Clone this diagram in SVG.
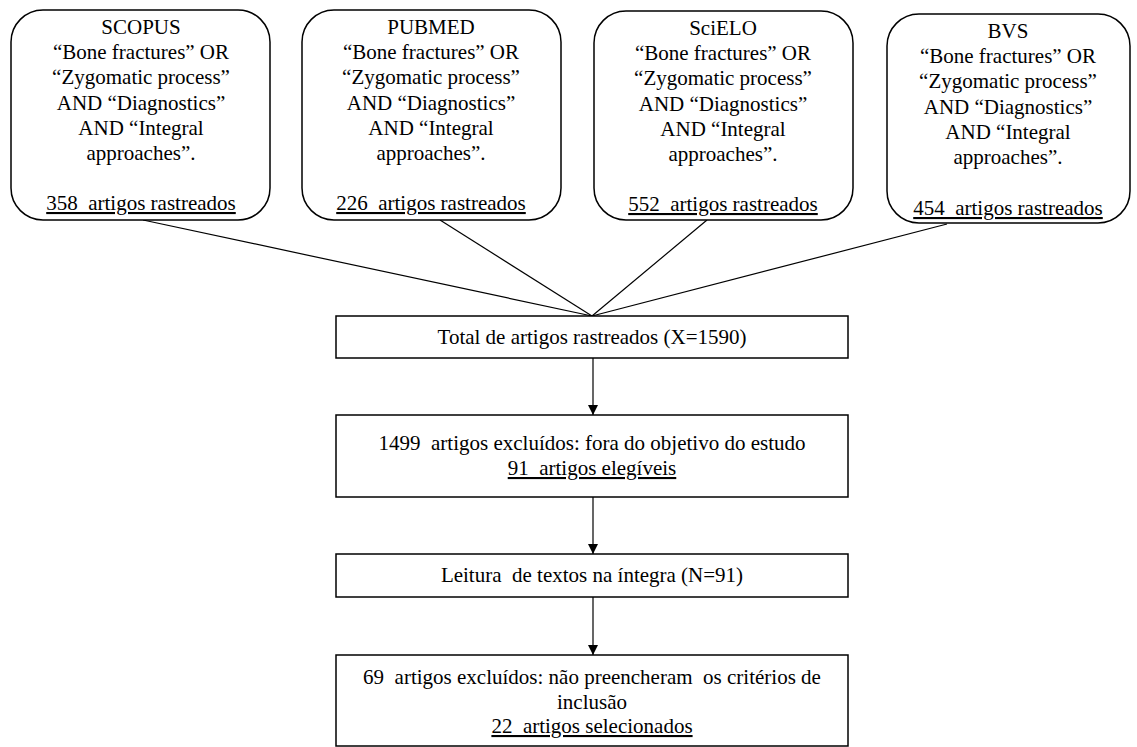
<svg xmlns="http://www.w3.org/2000/svg" width="1137" height="747" viewBox="0 0 1137 747">
  <style>
    .box { fill: #ffffff; stroke: #000000; stroke-width: 1.5; }
    .t { font-family: 'Liberation Serif', 'Times New Roman', 'DejaVu Serif', serif; font-size: 21px; fill: #000000; text-anchor: middle; white-space: pre; }
    .u { text-decoration: underline; }
    .con { stroke: #000000; stroke-width: 1.2; fill: none; }
  </style>
  <defs>
    <marker id="arrow" viewBox="0 0 10 10" refX="10" refY="5" markerWidth="10" markerHeight="10" markerUnits="userSpaceOnUse" orient="auto">
      <path d="M0,0 L10,5 L0,10 Z" fill="#000000"/>
    </marker>
  </defs>
  <rect width="1137" height="747" fill="#ffffff"/>

  <g id="connectors">
    <line class="con" x1="143" y1="220" x2="592" y2="316"/>
    <line class="con" x1="440" y1="220" x2="592" y2="316"/>
    <line class="con" x1="707" y1="220" x2="592" y2="316"/>
    <line class="con" x1="947" y1="224" x2="592" y2="316"/>
    <line class="con" x1="593" y1="358" x2="593" y2="415" marker-end="url(#arrow)"/>
    <line class="con" x1="593" y1="497" x2="593" y2="554" marker-end="url(#arrow)"/>
    <line class="con" x1="593" y1="597" x2="593" y2="655" marker-end="url(#arrow)"/>
  </g>

  <g id="scopus">
    <rect class="box" x="11" y="10" width="259" height="210" rx="32" ry="32"/>
    <text class="t" x="141" y="34">SCOPUS</text>
    <text class="t" x="141" y="59">“Bone fractures” OR</text>
    <text class="t" x="141" y="84">“Zygomatic process”</text>
    <text class="t" x="141" y="110">AND “Diagnostics”</text>
    <text class="t" x="141" y="135">AND “Integral</text>
    <text class="t" x="141" y="160">approaches”.</text>
    <text class="t u" x="141" y="210">358  artigos rastreados</text>
  </g>

  <g id="pubmed">
    <rect class="box" x="302" y="10" width="259" height="210" rx="32" ry="32"/>
    <text class="t" x="431" y="34">PUBMED</text>
    <text class="t" x="431" y="59">“Bone fractures” OR</text>
    <text class="t" x="431" y="84">“Zygomatic process”</text>
    <text class="t" x="431" y="110">AND “Diagnostics”</text>
    <text class="t" x="431" y="135">AND “Integral</text>
    <text class="t" x="431" y="160">approaches”.</text>
    <text class="t u" x="431" y="210">226  artigos rastreados</text>
  </g>

  <g id="scielo">
    <rect class="box" x="594" y="11" width="259" height="209" rx="32" ry="32"/>
    <text class="t" x="723" y="35">SciELO</text>
    <text class="t" x="723" y="60">“Bone fractures” OR</text>
    <text class="t" x="723" y="85">“Zygomatic process”</text>
    <text class="t" x="723" y="111">AND “Diagnostics”</text>
    <text class="t" x="723" y="136">AND “Integral</text>
    <text class="t" x="723" y="161">approaches”.</text>
    <text class="t u" x="723" y="211">552  artigos rastreados</text>
  </g>

  <g id="bvs">
    <rect class="box" x="887" y="14" width="243" height="209" rx="32" ry="32"/>
    <text class="t" x="1008" y="38">BVS</text>
    <text class="t" x="1008" y="63">“Bone fractures” OR</text>
    <text class="t" x="1008" y="88">“Zygomatic process”</text>
    <text class="t" x="1008" y="114">AND “Diagnostics”</text>
    <text class="t" x="1008" y="139">AND “Integral</text>
    <text class="t" x="1008" y="164">approaches”.</text>
    <text class="t u" x="1008" y="215">454  artigos rastreados</text>
  </g>

  <g id="total">
    <rect class="box" x="336" y="316" width="512" height="42"/>
    <text class="t" x="592" y="344">Total de artigos rastreados (X=1590)</text>
  </g>

  <g id="excluidos1">
    <rect class="box" x="336" y="415" width="512" height="82"/>
    <text class="t" x="592" y="450">1499  artigos excluídos: fora do objetivo do estudo</text>
    <text class="t u" x="592" y="475">91  artigos elegíveis</text>
  </g>

  <g id="leitura">
    <rect class="box" x="336" y="554" width="512" height="43"/>
    <text class="t" x="592" y="582">Leitura  de textos na íntegra (N=91)</text>
  </g>

  <g id="selecionados">
    <rect class="box" x="336" y="655" width="512" height="91"/>
    <text class="t" x="592" y="684">69  artigos excluídos: não preencheram  os critérios de</text>
    <text class="t" x="592" y="709">inclusão</text>
    <text class="t u" x="592" y="733">22  artigos selecionados</text>
  </g>
</svg>
